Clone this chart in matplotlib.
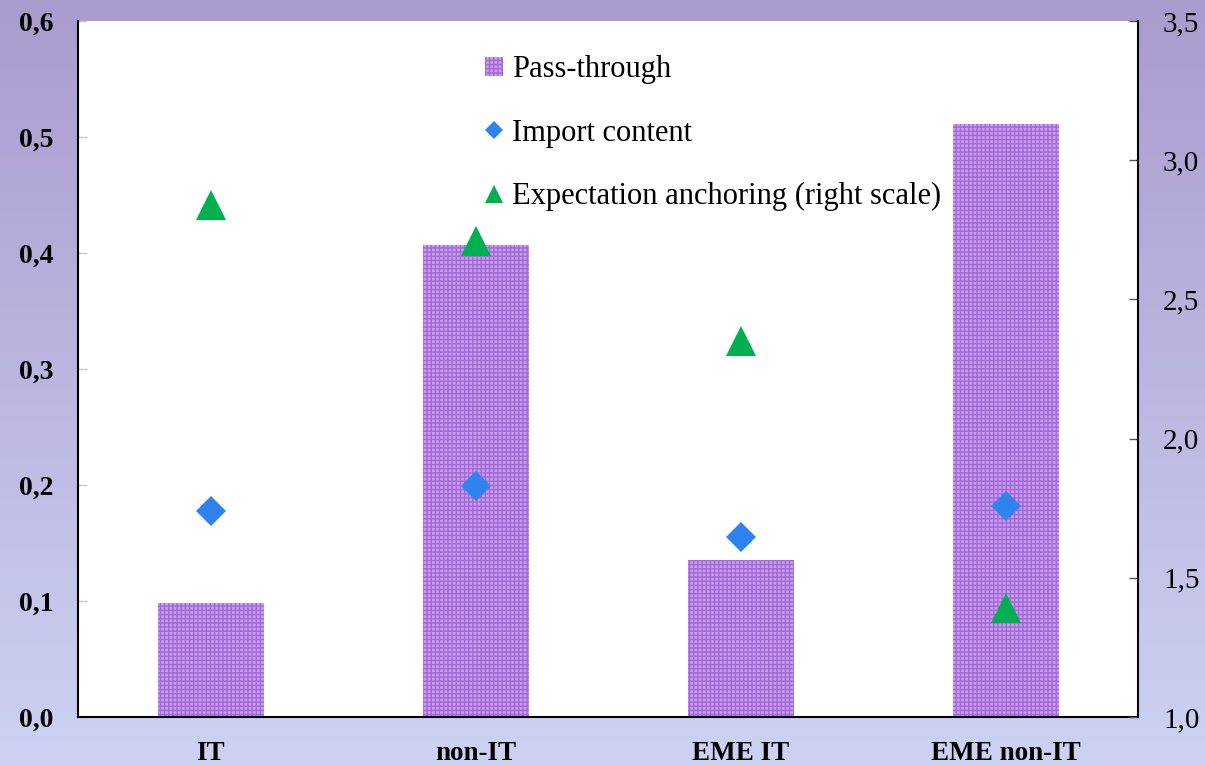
import numpy as np
import matplotlib
matplotlib.use("Agg")
import matplotlib.pyplot as plt
from matplotlib.patches import Patch
from matplotlib.lines import Line2D

# Data
categories = ["IT", "non-IT", "EME IT", "EME non-IT"]
pass_through = [0.098, 0.407, 0.135, 0.511]
import_content = [0.178, 0.199, 0.155, 0.182]
expectation_anchoring = [2.84, 2.71, 2.35, 1.39]

left_ticks = [0.0, 0.1, 0.2, 0.3, 0.4, 0.5, 0.6]
right_ticks = [1.0, 1.5, 2.0, 2.5, 3.0, 3.5]

plt.rcParams["font.family"] = ["Liberation Serif", "DejaVu Serif"]
plt.rcParams["hatch.linewidth"] = 1.0

W, H, DPI = 1205, 766, 100
fig = plt.figure(figsize=(W / DPI, H / DPI), dpi=DPI)

# Vertical gradient backdrop
bg = fig.add_axes([0, 0, 1, 1], zorder=-10)
top_c = np.array([170, 155, 205]) / 255
bot_c = np.array([205, 210, 243]) / 255
t = np.linspace(0, 1, 256)[:, None, None]
grad = top_c * (1 - t) + bot_c * t
grad = np.repeat(grad, 2, axis=1)
bg.imshow(grad, aspect="auto", extent=[0, 1, 0, 1])
bg.set_axis_off()

ax = fig.add_axes([78 / W, 1 - 717 / H, (1138 - 78) / W, (717 - 21) / H])
ax.set_facecolor("white")
x = np.arange(len(categories))

bar_color = "#c79fee"
hatch_color = "#a468da"
ax.bar(x, pass_through, width=0.4, color=bar_color, edgecolor=hatch_color,
       linewidth=0, hatch="++++", zorder=2)
ax.plot(x, import_content, linestyle="none", marker="D", markersize=14.8,
        color="#2f83ee", markeredgewidth=0, zorder=3)

ax.set_xlim(-0.5, len(categories) - 0.5)
ax.set_ylim(0, 0.6)
ax.set_yticks(left_ticks)
ax.set_yticklabels([f"{v:.1f}".replace(".", ",") for v in left_ticks],
                   fontsize=20, fontweight="bold")
ax.set_xticks(x)
ax.set_xticklabels(categories, fontsize=19.5, fontweight="bold")
ax.tick_params(axis="x", length=0, pad=17)
ax.tick_params(axis="y", direction="in", length=6.5, width=1,
               color="#c8c8c8", pad=18)

for side in ["left", "bottom"]:
    ax.spines[side].set_linewidth(1.5)
    ax.spines[side].set_color("black")
ax.spines["top"].set_visible(False)
ax.spines["right"].set_visible(False)

ax2 = ax.twinx()
ax2.plot(x, expectation_anchoring, linestyle="none", marker="^",
         markersize=21, color="#00b050", markeredgewidth=0, zorder=4)
ax2.set_ylim(1.0, 3.5)
ax2.set_yticks(right_ticks)
ax2.set_yticklabels([f"{v:.1f}".replace(".", ",") for v in right_ticks],
                    fontsize=21)
ax2.tick_params(axis="y", direction="in", length=6.5, width=1,
                color="#555555", pad=18)
ax2.spines["right"].set_linewidth(1.5)
ax2.spines["right"].set_color("black")
for side in ["top", "left", "bottom"]:
    ax2.spines[side].set_visible(False)

handles = [
    Patch(facecolor=bar_color, edgecolor=hatch_color, linewidth=0, hatch="++++"),
    Line2D([], [], linestyle="none", marker="D", markersize=9,
           color="#2f83ee", markeredgewidth=0),
    Line2D([], [], linestyle="none", marker="^", markersize=13,
           color="#00b050", markeredgewidth=0),
]
labels = ["Pass-through", "Import content", "Expectation anchoring (right scale)"]
ax2.legend(handles, labels, loc="upper left", bbox_to_anchor=(485 / W, 1 - 55 / H),
           bbox_transform=fig.transFigure, frameon=False, fontsize=22,
           handlelength=0.6, handleheight=0.6, handletextpad=0.3,
           labelspacing=1.13, borderpad=0, borderaxespad=0)

fig.savefig("out.png", dpi=DPI)
